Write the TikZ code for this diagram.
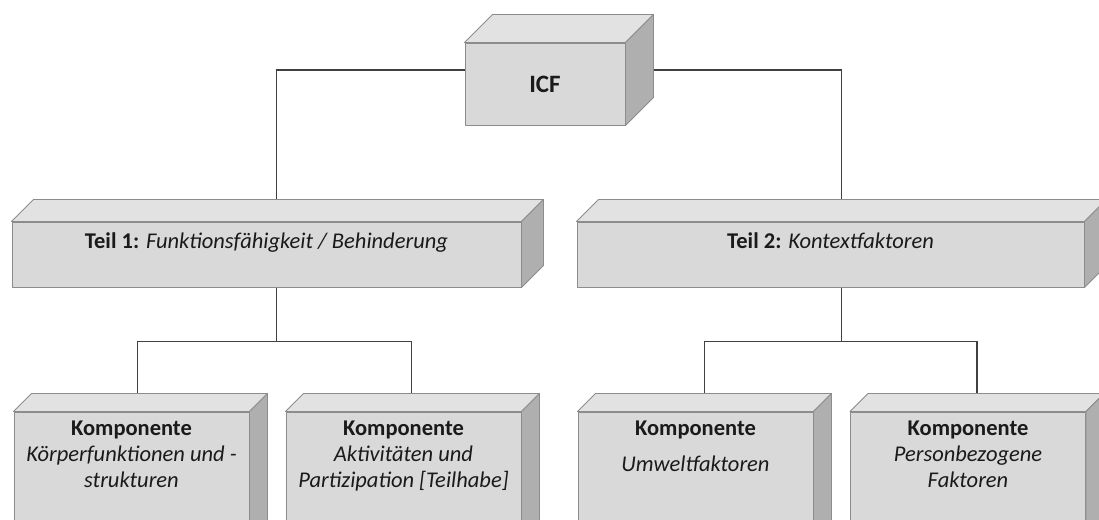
\documentclass[tikz,border=0pt]{standalone}
\usepackage{fontspec}
\setmainfont{Carlito}
\usetikzlibrary{positioning}
\definecolor{frontgray}{HTML}{D9D9D9}
\definecolor{topgray}{HTML}{E2E2E2}
\definecolor{sidegray}{HTML}{AFAFAF}
\definecolor{edgegray}{HTML}{8C8C8C}
\definecolor{linkgray}{HTML}{404040}
\definecolor{textgray}{HTML}{1A1A1A}
\pgfdeclarelayer{background}
\pgfsetlayers{background,main}
\tikzset{
  x=1pt, y=1pt,
  face/.style={draw=edgegray, line width=0.9pt, line join=round}, % outline of every face
  cuboid/.style n args={3}{face, fill=frontgray, inner sep=0pt, text=textgray,
    font=\fontsize{22.5}{26}\selectfont,
    execute at begin node={\begin{minipage}[c][#2][#3]{#1}\centering},
    execute at end node={\end{minipage}}},
  link/.style={draw=linkgray, line width=1.2pt},
}

\begin{document}
\begin{tikzpicture}
    \useasboundingbox (0,0) rectangle (1099,519);

    % top
    \node[cuboid={160pt}{82pt}{c}] (icf) at (545,435) {\fontsize{25}{28}\selectfont\textbf{ICF}};

    % parts
    \node[cuboid={509pt}{65pt}{t}] (teil1) at (266.5,264.5)
        {\vspace*{11pt}\textbf{Teil 1:} \textit{Funktionsfähigkeit / Behinderung}};
    \node[cuboid={507pt}{65pt}{t}] (teil2) at (830.5,264.5)
        {\vspace*{11pt}\textbf{Teil 2:} \textit{Kontextfaktoren}};

    % components
    \node[cuboid={235pt}{130pt}{t}] (kA) at (131.5,42)
        {\vspace*{9pt}\textbf{Komponente}\\ \textit{Körperfunktionen und -\\ strukturen}};
    \node[cuboid={235pt}{130pt}{t}] (kB) at (403.5,42)
        {\vspace*{9pt}\textbf{Komponente}\\ \textit{Aktivitäten und\\ Partizipation [Teilhabe]}};
    \node[cuboid={235pt}{130pt}{t}] (kC) at (695.5,42)
        {\vspace*{9pt}\textbf{Komponente}\\[10pt] \textit{Umweltfaktoren}};
    \node[cuboid={235pt}{130pt}{t}] (kD) at (968,42)
        {\vspace*{9pt}\textbf{Komponente}\\ \textit{Personbezogene\\ Faktoren}};

    % top and side faces
    \foreach \n/\d in {icf/28, teil1/22, teil2/22, kA/18, kB/18, kC/18, kD/18} {
        \draw[face, fill=topgray] (\n.north west) -- ++(\d,\d)
            -- ([shift={(\d,\d)}]\n.north east) -- (\n.north east) -- cycle;
        \draw[face, fill=sidegray] (\n.north east) -- ++(\d,\d)
            -- ([shift={(\d,\d)}]\n.south east) -- (\n.south east) -- cycle;
    }

    % connectors
    \begin{pgfonlayer}{background}
        \draw[link] ([yshift=14pt]icf.west) -| ([xshift=10pt]teil1.north);
        \draw[link] ([yshift=14pt]icf.east) -| ([xshift=11pt]teil2.north);
        \draw[link] ([xshift=10pt]teil1.south) -- ++(0,-54) coordinate (j1);
        \draw[link] ([xshift=6pt]kA.north) |- (j1) -| ([xshift=8pt]kB.north);
        \draw[link] ([xshift=11pt]teil2.south) -- ++(0,-54) coordinate (j2);
        \draw[link] ([xshift=9pt]kC.north) |- (j2) -| ([xshift=9pt]kD.north);
    \end{pgfonlayer}
\end{tikzpicture}
\end{document}
